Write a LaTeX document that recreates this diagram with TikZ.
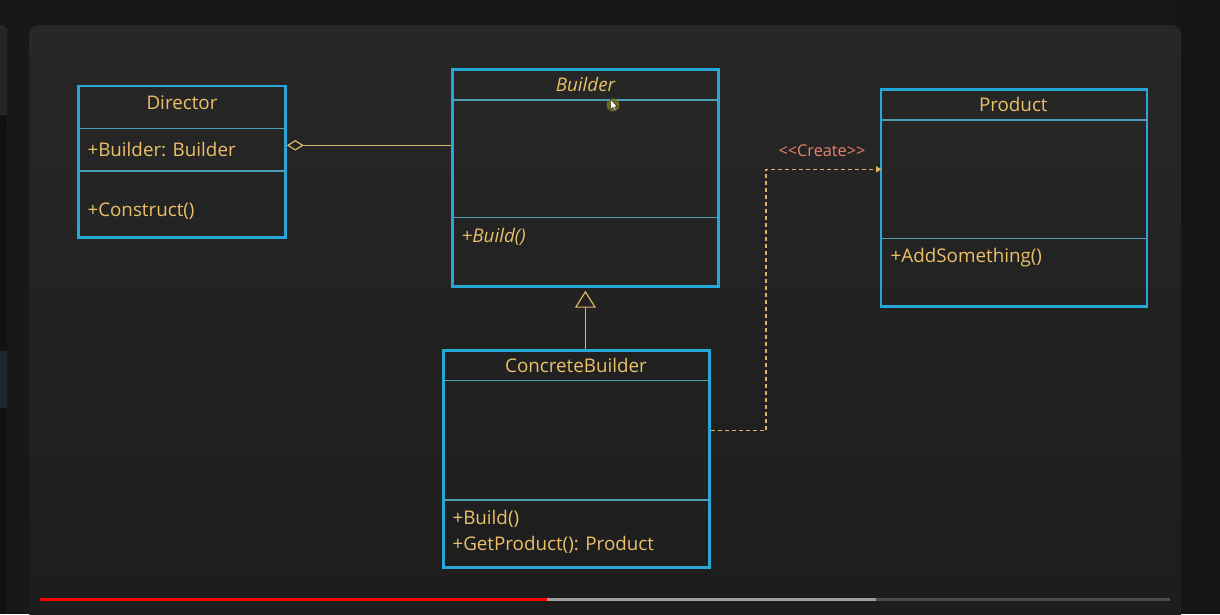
\documentclass[tikz,border=0pt]{standalone}
\usepackage{fontspec}
\setmainfont{Open Sans}
\usetikzlibrary{arrows.meta}
\definecolor{outerbg}{HTML}{181818}
\definecolor{topbg}{HTML}{161616}
\definecolor{stripbg}{HTML}{111111}
\definecolor{stripTop}{HTML}{262626}
\definecolor{stripHi}{HTML}{1E2830}
\definecolor{rightbg}{HTML}{151515}
\definecolor{barlight}{HTML}{A0A0A0}
\definecolor{bardark}{HTML}{4D4D4D}
\definecolor{paneltop}{HTML}{272727}
\definecolor{panelbot}{HTML}{1c1c1c}
\definecolor{boxcol}{HTML}{28A6D6}
\definecolor{divcol}{HTML}{4A9FB6}
\definecolor{txtcol}{HTML}{EAC06A}
\definecolor{linecol}{HTML}{DDB468}
\definecolor{stereo}{HTML}{E8826E}
\definecolor{cursorring}{HTML}{78781E}
\tikzset{
  umlbox/.style={draw=boxcol, line width=2.5pt, rectangle, inner sep=0pt, outer sep=0pt, anchor=north west},
  divider/.style={draw=divcol, line width=1.5pt},
  umltxt/.style={text=txtcol, inner sep=0pt, font=\fontsize{18.8}{22}\selectfont},
  conn/.style={draw=linecol, line width=1.2pt},
  depline/.style={draw=linecol, line width=1.3pt, dash pattern=on 4pt off 3pt}
}
\begin{document}
\begin{tikzpicture}[x=1pt,y=-1pt]
\useasboundingbox (0,0) rectangle (1220,614);
% backgrounds
\fill[outerbg] (0,0) rectangle (1220,614);
\fill[topbg] (0,0) rectangle (1220,25);
\fill[stripbg] (0,25) rectangle (7.3,614);
\fill[stripTop, rounded corners=6pt] (-10,25) rectangle (7.3,130);
\fill[stripbg] (-10,115) rectangle (7.3,130);
\fill[stripHi] (0,351) rectangle (7,408);
\shade[top color=paneltop, bottom color=panelbot, rounded corners=10pt] (29.3,25) rectangle (1181,660);
\fill[rightbg] (1181,0) rectangle (1220,614);
% progress bar
\fill[red] (40,597.5) rectangle (547,600.7);
\fill[barlight] (547,597.5) rectangle (876,600.7);
\fill[bardark] (876,597.5) rectangle (1170,600.7);

% Director
\node[umlbox, minimum width=207pt, minimum height=151.5pt] (dir) at (78.5,86) {};
\draw[divider] (78.5,128.7) -- (285.5,128.7);
\draw[divider] (78.5,171) -- (285.5,171);
\node[umltxt, anchor=base] (dirname) at (182,109.3) {Director};
\node[umltxt, anchor=base west] (dirattr) at (87.3,156.7) {+Builder: Builder};
\node[umltxt, anchor=base west] (dirop) at (87.3,216.2) {+Construct()};

% Builder
\node[umlbox, minimum width=265.8pt, minimum height=217pt] (bld) at (452.5,69.5) {};
\draw[divider] (452.5,100) -- (718.3,100);
\draw[divider] (452.5,217.7) -- (718.3,217.7);
\node[umltxt, anchor=base] (bldname) at (585.5,91.7) {\itshape Builder};
\node[umltxt, anchor=base west] (bldop) at (461.5,242.7) {\itshape +Build()};

% Product
\node[umlbox, minimum width=266pt, minimum height=217pt] (prod) at (881,89.5) {};
\draw[divider] (881,120) -- (1147,120);
\draw[divider] (881,238.3) -- (1147,238.3);
\node[umltxt, anchor=base] (prodname) at (1013.3,111.7) {Product};
\node[umltxt, anchor=base west] (prodop) at (890.5,262.7) {+AddSomething()};

% ConcreteBuilder
\node[umlbox, minimum width=265.8pt, minimum height=217.4pt] (cb) at (443.7,350.3) {};
\draw[divider] (443.7,380.7) -- (709.5,380.7);
\draw[divider] (443.7,500) -- (709.5,500);
\node[umltxt, anchor=base] (cbname) at (576,372.3) {ConcreteBuilder};
\node[umltxt, anchor=base west] (cbop1) at (452.3,524.3) {+Build()};
\node[umltxt, anchor=base west] (cbop2) at (452.3,550) {+GetProduct(): Product};

% aggregation
\coordinate (aggy) at (0,145.3);
\draw[conn, {Diamond[open, length=17pt, width=10.5pt, line width=1.2pt]}-] ([xshift=1.3pt]dir.east |- aggy) -- ([xshift=-1.2pt]bld.west |- aggy);

% inheritance
\draw[conn, -{Triangle[open, length=17pt, width=21pt, line width=1.2pt]}] ([yshift=1.2pt]bld.south |- cb.north) -- ([yshift=-4.2pt]bld.south);

% dependency
\coordinate (depy) at (0,430.7);
\coordinate (bend) at (766,169.3);
\draw[depline, -{Latex[length=6pt, width=7pt]}] ([xshift=1.2pt]cb.east |- depy) -| (bend) -- ([xshift=1pt]prod.west |- bend);
\node[text=stereo, inner sep=0pt, anchor=base, font=\fontsize{16.3}{19}\selectfont] (create) at (822,156.7) {<{}<Create>{}>};

% mouse pointer
\fill[cursorring, opacity=0.85] (613,105) circle (6.5pt);
\fill[white, draw=black, line width=0.3pt] (610.5,99.5) -- (610.5,109.5) -- (613,107.3) -- (615,111) -- (616.3,110.4) -- (614.5,106.8) -- (617.5,106.6) -- cycle;
\end{tikzpicture}
\end{document}
